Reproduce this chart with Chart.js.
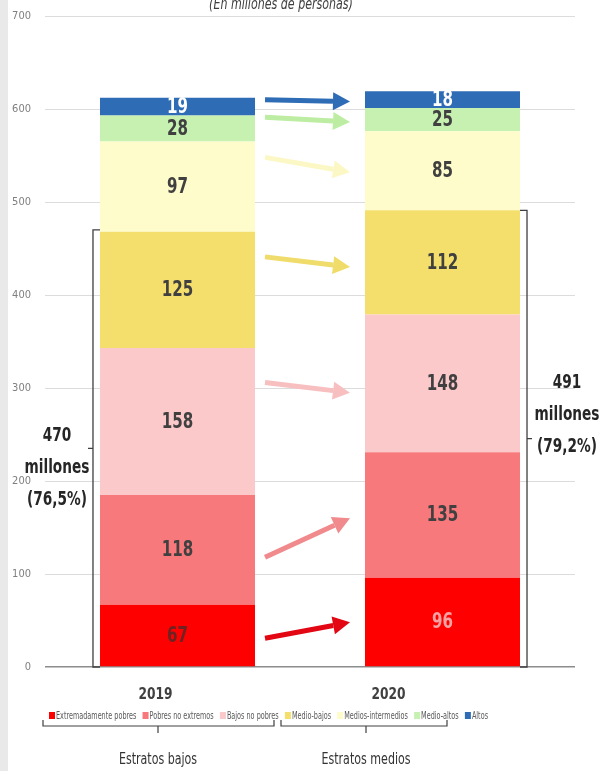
<!DOCTYPE html>
<html>
<head>
<meta charset="utf-8">
<script src="https://cdn.jsdelivr.net/npm/chart.js@4/dist/chart.umd.min.js"></script>
<style>
  html, body { margin: 0; padding: 0; background: #fff; }
  #wrap { width: 601px; height: 771px; }
</style>
</head>
<body>
<div id="wrap"><canvas id="chart" width="601" height="771"></canvas></div>
<script>
// --- datos ---
const years = ['2019', '2020'];
const strata = ['Extremadamente pobres', 'Pobres no extremos', 'Bajos no pobres', 'Medio-bajos', 'Medios-intermedios', 'Medio-altos', 'Altos'];
const extremos = [67, 96];
const pobresNoExtremos = [118, 135];
const bajosNoPobres = [158, 148];
const medioBajos = [125, 112];
const mediosIntermedios = [97, 85];
const medioAltos = [28, 25];
const altos = [19, 18];
const yTicks = [0, 100, 200, 300, 400, 500, 600, 700];

// flechas 2019 -> 2020 (valor en el eje y al inicio y en la punta)
const arrowFrom = [31, 118, 306, 441, 548, 591, 610];
const arrowTo = [48, 160, 295, 430, 532, 586, 608];

// llaves laterales
const bracketTop = [470, 491];
const bracketText = [['470', 'millones', '(76,5%)'], ['491', 'millones', '(79,2%)']];
const groups = ['Estratos bajos', 'Estratos medios'];

const FONT = '"Liberation Sans Narrow", "DejaVu Sans Condensed", "Open Sans", sans-serif';
const colors = ['#ff0000', '#f7797b', '#fbc9c9', '#f5df6c', '#fefccb', '#c6f1b0', '#2e6cb5'];
const arrowColors = ['#e30613', '#f08a8c', '#f7bfc0', '#f0dc6a', '#fbf8c6', '#bdeda2', '#2e6cb5'];
const labelColors = [['#6e2222', '#f7a3a3'], '#404040', '#404040', '#404040', '#404040', '#404040', '#ffffff'];

const series = [extremos, pobresNoExtremos, bajosNoPobres, medioBajos, mediosIntermedios, medioAltos, altos];

// texto estrecho (parecido a Calibri)
function narrowText(ctx, t, x, y, sx) {
  ctx.save();
  ctx.translate(x, y);
  ctx.scale(sx, 1);
  ctx.fillText(t, 0, 0);
  ctx.restore();
}

function drawArrow(ctx, x0, y0, x1, y1, color) {
  const ang = Math.atan2(y1 - y0, x1 - x0);
  const head = 17, half = 9;
  const bx = x1 - head * Math.cos(ang), by = y1 - head * Math.sin(ang);
  ctx.strokeStyle = color;
  ctx.fillStyle = color;
  ctx.lineWidth = 5;
  ctx.beginPath();
  ctx.moveTo(x0, y0);
  ctx.lineTo(bx, by);
  ctx.stroke();
  ctx.beginPath();
  ctx.moveTo(x1, y1);
  ctx.lineTo(bx + half * Math.sin(ang), by - half * Math.cos(ang));
  ctx.lineTo(bx - half * Math.sin(ang), by + half * Math.cos(ang));
  ctx.closePath();
  ctx.fill();
}

const extras = {
  id: 'extras',
  beforeDraw(chart) {
    const ctx = chart.ctx;
    ctx.save();
    ctx.fillStyle = '#ffffff';
    ctx.fillRect(0, 0, chart.width, chart.height);
    ctx.fillStyle = '#e9e9e9';
    ctx.fillRect(0, 0, 8, chart.height);
    ctx.restore();
  },
  afterDraw(chart) {
    const ctx = chart.ctx;
    const y = chart.scales.y;
    ctx.save();

    // titulo (cortado arriba)
    ctx.fillStyle = '#404040';
    ctx.font = 'italic 15px ' + FONT;
    ctx.textAlign = 'center';
    ctx.textBaseline = 'alphabetic';
    narrowText(ctx, '(En millones de personas)', 281, 9, 0.82);

    // etiquetas de los segmentos
    ctx.textBaseline = 'middle';
    ctx.font = 'bold 21px ' + FONT;
    series.forEach((s, i) => {
      chart.getDatasetMeta(i).data.forEach((bar, j) => {
        const c = labelColors[i];
        ctx.fillStyle = Array.isArray(c) ? c[j] : c;
        narrowText(ctx, String(s[j]), bar.x, (bar.y + bar.base) / 2 + 1, 0.8);
      });
    });

    // flechas
    series.forEach((s, i) => {
      const bars = chart.getDatasetMeta(i).data;
      const x0 = bars[0].x + bars[0].width / 2 + 10;
      const x1 = bars[1].x - bars[1].width / 2 - 15;
      drawArrow(ctx, x0, y.getPixelForValue(arrowFrom[i]), x1, y.getPixelForValue(arrowTo[i]), arrowColors[i]);
    });

    // llaves verticales
    const b = chart.getDatasetMeta(0).data;
    const bottom = y.getPixelForValue(0);
    ctx.strokeStyle = '#404040';
    ctx.lineWidth = 1.3;
    [0, 1].forEach(k => {
      const dir = k === 0 ? -1 : 1;
      const bx = k === 0 ? b[0].x - b[0].width / 2 - 7 : b[1].x + b[1].width / 2 + 7;
      const top = y.getPixelForValue(bracketTop[k]);
      const mid = (top + bottom) / 2;
      ctx.beginPath();
      ctx.moveTo(bx - dir * 7, top);
      ctx.lineTo(bx, top);
      ctx.lineTo(bx, bottom);
      ctx.lineTo(bx - dir * 7, bottom);
      ctx.moveTo(bx, mid);
      ctx.lineTo(bx + dir * 5, mid);
      ctx.stroke();

      ctx.fillStyle = '#262626';
      ctx.font = 'bold 19px ' + FONT;
      const tx = k === 0 ? bx - 36 : bx + 40;
      const ty = k === 0 ? mid - 12 : mid - 56;
      bracketText[k].forEach((t, n) => narrowText(ctx, t, tx, ty + n * 32, 0.8));
    });

    // anos
    ctx.fillStyle = '#404040';
    ctx.font = 'bold 16px ' + FONT;
    narrowText(ctx, years[0], b[0].x - 22, bottom + 28, 0.85);
    narrowText(ctx, years[1], b[1].x - 54, bottom + 28, 0.85);

    // leyenda
    ctx.font = '10px ' + FONT;
    ctx.textAlign = 'left';
    const sx = 0.72;
    const lx0 = 49, lx1 = 488, ly = bottom + 48, box = 6;
    const widths = strata.map(t => ctx.measureText(t).width * sx);
    const used = widths.reduce((a, w) => a + w + box + 1, 0);
    const gap = (lx1 - lx0 - used) / (strata.length - 1);
    let lx = lx0;
    strata.forEach((t, i) => {
      ctx.fillStyle = colors[i];
      ctx.fillRect(lx, ly - box / 2, box, box + 1);
      ctx.fillStyle = '#595959';
      narrowText(ctx, t, lx + box + 1, ly + 1, sx);
      lx += box + 1 + widths[i] + gap;
    });

    // llaves horizontales
    ctx.strokeStyle = '#404040';
    ctx.lineWidth = 1.2;
    const braces = [[43, 274, 158], [281, 447, 366]];
    braces.forEach(([a, c, m], k) => {
      ctx.beginPath();
      ctx.moveTo(a, bottom + 53);
      ctx.lineTo(a, bottom + 59);
      ctx.lineTo(c, bottom + 59);
      ctx.lineTo(c, bottom + 53);
      ctx.moveTo(m, bottom + 59);
      ctx.lineTo(m, bottom + 66);
      ctx.stroke();
      ctx.fillStyle = '#333333';
      ctx.font = '15px ' + FONT;
      ctx.textAlign = 'center';
      narrowText(ctx, groups[k], m, bottom + 93, 0.82);
    });

    ctx.restore();
  }
};

new Chart(document.getElementById('chart'), {
  type: 'bar',
  data: {
    labels: years,
    datasets: series.map((s, i) => ({
      label: strata[i],
      data: s,
      backgroundColor: colors[i],
      borderWidth: 0,
      barPercentage: 0.585,
      categoryPercentage: 1
    }))
  },
  options: {
    responsive: false,
    animation: false,
    layout: { padding: { top: 16, right: 26, bottom: 104, left: 0 } },
    plugins: {
      legend: { display: false },
      tooltip: { enabled: false }
    },
    scales: {
      x: {
        stacked: true,
        display: false
      },
      y: {
        stacked: true,
        min: 0,
        max: 700,
        afterFit: scale => {
          scale.width = 45;
          scale.paddingTop = 0;
          scale.paddingBottom = 0;
        },
        afterBuildTicks: scale => { scale.ticks = yTicks.map(v => ({ value: v })); },
        border: { display: false },
        grid: {
          drawTicks: false,
          color: c => c.tick && c.tick.value === 0 ? '#8c8c8c' : '#dcdcdc',
          lineWidth: c => c.tick && c.tick.value === 0 ? 1.5 : 1
        },
        ticks: {
          padding: 14,
          color: '#7f7f7f',
          font: { family: FONT, size: 11 }
        }
      }
    }
  },
  plugins: [extras]
});
</script>
</body>
</html>
